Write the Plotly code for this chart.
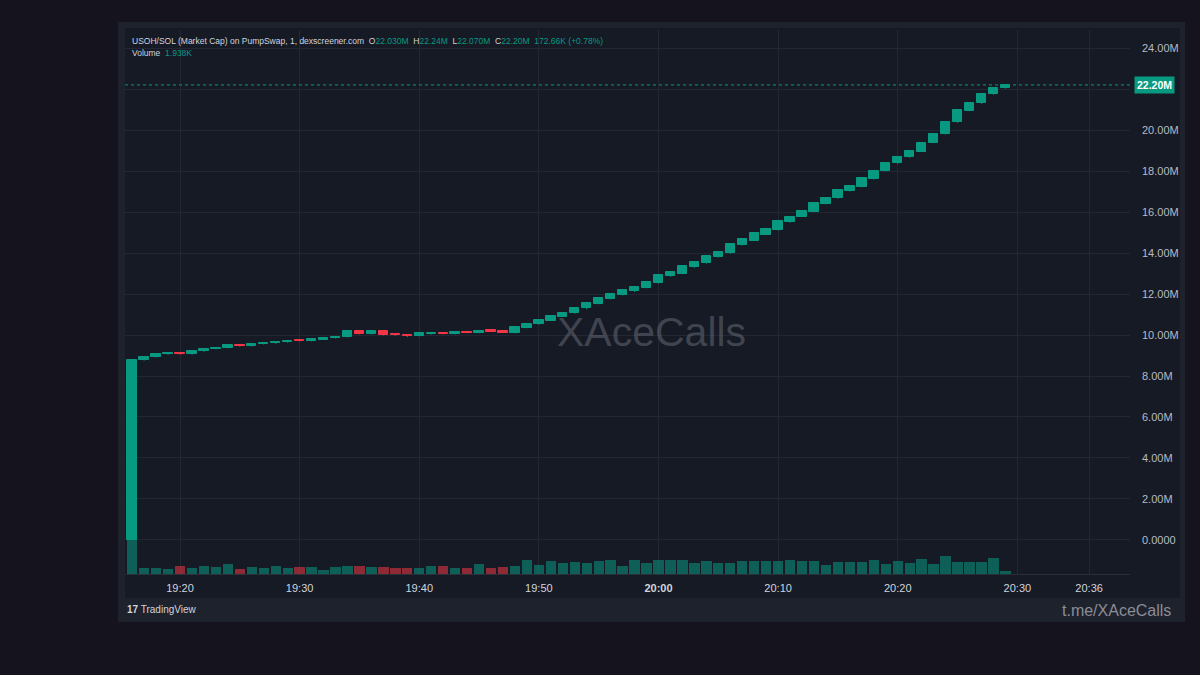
import pandas as pd
import plotly.graph_objects as go

# ---------------- data ----------------
start_time = "2024-01-01 19:16"
n_candles = 74
times = pd.date_range(start_time, periods=n_candles, freq="1min")

opens = [0.00, 8.78, 8.92, 9.05, 9.14, 9.06, 9.20, 9.33, 9.37, 9.53,
         9.46, 9.55, 9.59, 9.64, 9.76, 9.71, 9.78, 9.85, 9.90, 10.20,
         10.05, 10.20, 10.03, 10.00, 9.95, 10.06, 10.08, 10.05, 10.16, 10.11,
         10.24, 10.18, 10.10, 10.35, 10.52, 10.70, 10.90, 11.06, 11.30, 11.52,
         11.76, 11.95, 12.14, 12.30, 12.53, 12.86, 13.00, 13.30, 13.50, 13.80,
         13.98, 14.39, 14.60, 14.90, 15.12, 15.50, 15.78, 16.02, 16.39, 16.67,
         17.02, 17.23, 17.61, 18.00, 18.37, 18.67, 18.94, 19.38, 19.80, 20.37,
         20.94, 21.30, 21.74, 22.03]
closes = [8.78, 8.92, 9.05, 9.14, 9.06, 9.20, 9.33, 9.37, 9.50, 9.46,
          9.56, 9.60, 9.66, 9.73, 9.70, 9.79, 9.86, 9.92, 10.20, 10.05,
          10.20, 10.00, 9.99, 9.95, 10.08, 10.08, 10.05, 10.16, 10.11, 10.20,
          10.17, 10.12, 10.37, 10.56, 10.73, 10.93, 11.09, 11.34, 11.54, 11.79,
          11.98, 12.20, 12.36, 12.57, 12.93, 13.06, 13.37, 13.58, 13.85, 14.03,
          14.44, 14.67, 14.96, 15.15, 15.55, 15.74, 16.05, 16.45, 16.70, 17.07,
          17.27, 17.64, 18.00, 18.37, 18.70, 18.98, 19.38, 19.80, 20.40, 20.98,
          21.30, 21.74, 22.03, 22.20]
highs = [8.80, 8.95, 9.06, 9.16, 9.16, 9.22, 9.36, 9.42, 9.52, 9.55,
         9.58, 9.64, 9.68, 9.75, 9.77, 9.81, 9.88, 9.95, 10.22, 10.21,
         10.22, 10.21, 10.06, 10.01, 10.10, 10.12, 10.11, 10.18, 10.20, 10.22,
         10.27, 10.24, 10.39, 10.58, 10.75, 10.95, 11.12, 11.36, 11.56, 11.81,
         12.00, 12.22, 12.38, 12.59, 12.95, 13.09, 13.39, 13.60, 13.88, 14.06,
         14.46, 14.70, 14.98, 15.18, 15.57, 15.77, 16.07, 16.47, 16.73, 17.09,
         17.30, 17.66, 18.02, 18.40, 18.72, 19.00, 19.40, 19.82, 20.42, 21.00,
         21.32, 21.76, 22.08, 22.24]
lows = [0.00, 8.75, 8.90, 9.03, 9.04, 9.04, 9.18, 9.30, 9.35, 9.43,
        9.44, 9.53, 9.57, 9.62, 9.68, 9.69, 9.76, 9.83, 9.88, 10.03,
        10.03, 9.98, 9.96, 9.90, 9.93, 10.02, 10.03, 10.03, 10.09, 10.09,
        10.15, 10.10, 10.08, 10.33, 10.50, 10.68, 10.88, 11.04, 11.25, 11.50,
        11.74, 11.93, 12.10, 12.28, 12.51, 12.84, 12.98, 13.28, 13.48, 13.78,
        13.96, 14.37, 14.58, 14.88, 15.10, 15.48, 15.76, 16.00, 16.37, 16.65,
        17.00, 17.21, 17.59, 17.98, 18.35, 18.65, 18.92, 19.36, 19.78, 20.35,
        20.92, 21.28, 21.72, 22.02]
volumes_k = [80.8, 3.7, 3.7, 2.8, 4.9, 3.4, 4.5, 4.1, 5.9, 3.0,
             4.1, 3.7, 4.5, 3.7, 4.0, 4.0, 2.4, 4.0, 4.9, 4.9,
             4.0, 4.0, 3.4, 3.7, 3.4, 4.7, 4.7, 3.7, 3.7, 5.7,
             3.7, 4.1, 4.9, 8.1, 5.3, 7.5, 6.7, 7.3, 6.7, 7.5,
             8.1, 4.7, 8.4, 6.3, 8.4, 8.3, 8.4, 6.5, 7.7, 6.5,
             6.3, 7.7, 7.7, 7.7, 7.5, 8.3, 7.7, 7.7, 5.1, 6.9,
             6.9, 6.9, 8.3, 5.7, 7.8, 6.7, 9.0, 5.9, 10.6, 7.3,
             6.9, 6.9, 9.4, 1.938]

last_price = 22.20
tick_times = ["19:20", "19:30", "19:40", "19:50", "20:00", "20:10", "20:20", "20:30", "20:36"]
tick_labels = ["19:20", "19:30", "19:40", "19:50", "<b>20:00</b>", "20:10", "20:20", "20:30", "20:36"]
price_ticks = [0, 2, 4, 6, 8, 10, 12, 14, 16, 18, 20, 22, 24]
price_labels = ["0.0000", "2.00M", "4.00M", "6.00M", "8.00M", "10.00M", "12.00M",
                "14.00M", "16.00M", "18.00M", "20.00M", "", "24.00M"]

# ---------------- style ----------------
UP = "#089981"
DOWN = "#f23645"
UP_VOL = "rgba(8,153,129,0.55)"
DOWN_VOL = "rgba(242,54,69,0.55)"
PANEL = "#161a25"
OUTER = "#14131e"
FRAME = "#1e222d"
GRID = "#232733"
TXT = "#d1d4dc"
FONT = "Liberation Sans, Arial, sans-serif"

fig = go.Figure()

# volume first (below the candles)
vol_colors = [UP_VOL if closes[i] >= opens[i] else DOWN_VOL for i in range(n_candles)]
fig.add_trace(go.Bar(x=times, y=volumes_k, yaxis="y2", width=52000,
                     marker=dict(color=vol_colors, line=dict(width=0)), showlegend=False))

for is_up, col in ((True, UP), (False, DOWN)):
    idx = [i for i in range(n_candles) if (closes[i] >= opens[i]) == is_up]
    wx, wy = [], []
    for i in idx:
        wx += [times[i], times[i], None]
        wy += [lows[i], highs[i], None]
    fig.add_trace(go.Scatter(x=wx, y=wy, mode="lines", line=dict(color=col, width=1),
                             hoverinfo="skip", showlegend=False))
    fig.add_trace(go.Bar(
        x=[times[i] for i in idx],
        base=[min(opens[i], closes[i]) for i in idx],
        y=[abs(closes[i] - opens[i]) for i in idx],
        width=47000,
        marker=dict(color=col, line=dict(color=col, width=1)),
        showlegend=False,
    ))

# layout geometry (pixels): plot area x 125..1130, y 30..574
L, R, T, B = 125, 70, 30, 101
PW, PH = 1200 - L - R, 675 - T - B


def px(xp):
    return (xp - L) / PW


def py(yp):
    return (675 - B - yp) / PH


fig.update_layout(
    width=1200, height=675,
    margin=dict(l=L, r=R, t=T, b=B),
    paper_bgcolor=OUTER, plot_bgcolor=PANEL,
    barmode="overlay", bargap=0,
    font=dict(family=FONT, color=TXT, size=11),
    xaxis=dict(
        type="date",
        range=["2024-01-01 19:15:24", "2024-01-01 20:39:25"],
        tickvals=[f"2024-01-01 {t}" for t in tick_times],
        ticktext=tick_labels,
        showgrid=True, gridcolor=GRID, gridwidth=1,
        zeroline=False, ticks="", ticklabelstandoff=4,
        tickfont=dict(size=11, color=TXT, family=FONT),
        showline=True, linecolor="#2a2e39", linewidth=1, mirror=False,
        fixedrange=True,
    ),
    yaxis=dict(
        side="right", range=[-1.66, 24.88],
        tickvals=price_ticks, ticktext=price_labels,
        showgrid=True, gridcolor=GRID, gridwidth=1,
        zeroline=False, ticks="", ticklabelstandoff=11,
        tickfont=dict(size=11, color="#b8bbc4", family=FONT),
    ),
    yaxis2=dict(overlaying="y", range=[0, 321], visible=False, showgrid=False),
    shapes=[
        dict(type="rect", xref="paper", yref="paper", x0=px(118), x1=px(1185), y0=py(622), y1=py(22),
             fillcolor=FRAME, line=dict(width=0), layer="below"),
        dict(type="rect", xref="paper", yref="paper", x0=px(125), x1=px(1180), y0=py(598), y1=py(28),
             fillcolor=PANEL, line=dict(width=0), layer="below"),
        dict(type="line", xref="paper", yref="y", x0=0, x1=1, y0=last_price, y1=last_price,
             line=dict(color=UP, width=1, dash="dot"), layer="above"),
    ],
)

G = f"<span style='color:{UP}'>"
header = ("USOH/SOL (Market Cap) on PumpSwap, 1, dexscreener.com\u00a0\u00a0"
          f"O{G}22.030M</span>\u00a0\u00a0H{G}22.24M</span>\u00a0\u00a0"
          f"L{G}22.070M</span>\u00a0\u00a0C{G}22.20M</span>\u00a0\u00a0"
          f"{G}172.66K (+0.78%)</span>")

fig.add_annotation(x=px(130), y=py(41), xref="paper", yref="paper", text=header,
                   showarrow=False, xanchor="left", yanchor="middle",
                   font=dict(size=8.5, color=TXT, family=FONT))
fig.add_annotation(x=px(130), y=py(53), xref="paper", yref="paper",
                   text=f"Volume\u00a0\u00a0{G}1.938K</span>",
                   showarrow=False, xanchor="left", yanchor="middle",
                   font=dict(size=8.5, color=TXT, family=FONT))
fig.add_annotation(x=1, y=last_price, xref="paper", yref="y", text=f"<b>{last_price:.2f}M</b>",
                   showarrow=False, xanchor="left", yanchor="middle", xshift=4,
                   bgcolor=UP, borderpad=2,
                   font=dict(size=10.5, color="#ffffff", family=FONT))
fig.add_annotation(x=px(651), y=py(332), xref="paper", yref="paper", text="XAceCalls",
                   showarrow=False, xanchor="center", yanchor="middle",
                   font=dict(size=41, color="rgba(120,123,134,0.45)", family=FONT))
fig.add_annotation(x=px(1173), y=py(610), xref="paper", yref="paper", text="t.me/XAceCalls",
                   showarrow=False, xanchor="right", yanchor="middle",
                   font=dict(size=16, color="#8a8d96", family=FONT))
fig.add_annotation(x=px(125), y=py(609), xref="paper", yref="paper",
                   text="<b>17</b> TradingView",
                   showarrow=False, xanchor="left", yanchor="middle",
                   font=dict(size=10, color=TXT, family=FONT))

fig.write_html("out.html")
